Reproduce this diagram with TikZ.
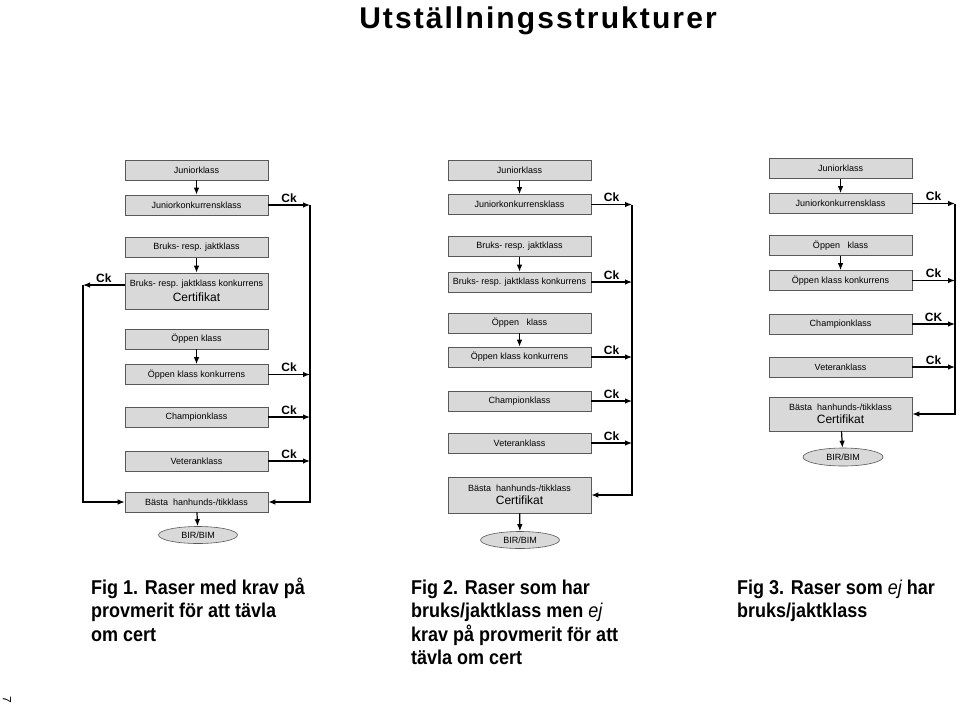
\documentclass[tikz,border=0pt]{standalone}
\usepackage{fontspec}
\setmainfont{Liberation Sans}
\newfontfamily\titelfont[LetterSpace=7]{Liberation Sans}
\newfontfamily\figfont[FakeStretch=0.9]{Liberation Sans}
\usetikzlibrary{shapes.geometric,arrows.meta}

\begin{document}
\begin{tikzpicture}[x=1pt,y=-1pt,>={Latex[length=7pt,width=5.5pt]},
    klass/.style={draw=gray!70!black,line width=0.6pt,fill=gray!30,minimum width=143pt,
      minimum height=20pt,inner sep=1pt,font=\fontsize{9}{10}\selectfont},
    dubbel/.style={klass,minimum height=36pt,align=center},
    birbim/.style={ellipse,draw=gray!70!black,line width=0.6pt,fill=gray!30,minimum width=79pt,
      minimum height=17pt,inner sep=0pt,font=\fontsize{9}{10}\selectfont},
    pil/.style={->,line width=1.2pt},
    ck/.style={above,inner sep=2pt,font=\fontsize{12}{12}\selectfont\bfseries},
    figtext/.style={anchor=base west,align=left,inner sep=0pt,font=\figfont\bfseries\fontsize{20}{23.5}\selectfont}]
      \useasboundingbox (0,0) rectangle (960,702);
      \node[anchor=base,font=\titelfont\bfseries\fontsize{30}{32}\selectfont] (titel) at (538,28) {Utställningsstrukturer};

      % Fig 1
      \node[klass] (jun1) at (196.5,170) {Juniorklass};
      \node[klass] (junk1) at (196.5,205) {Juniorkonkurrensklass};
      \node[klass] (bruk1) at (196.5,247.5) {Bruks- resp. jaktklass};
      \node[dubbel] (brukk1) at (196.5,291) {Bruks- resp. jaktklass konkurrens\\[3pt]{\fontsize{12}{12}\selectfont Certifikat}};
      \node[klass] (opp1) at (196.5,339) {Öppen klass};
      \node[klass] (oppk1) at (196.5,374.5) {Öppen klass konkurrens};
      \node[klass] (champ1) at (196.5,417) {Championklass};
      \node[klass] (vet1) at (196.5,461) {Veteranklass};
      \node[klass] (bast1) at (196.5,502) {Bästa\ \ hanhunds-/tikklass};
      \node[birbim] (bir1) at (198,535) {BIR/BIM};
      \coordinate (hoger1) at (310,205);
      \coordinate (vanster1) at (83,285);
      \draw[pil] (jun1) -- (junk1);
      \draw[pil] (bruk1) -- (brukk1);
      \draw[pil] (opp1) -- (oppk1);
      \draw[pil] (bast1) -- (bir1);
      \draw[pil] (junk1) -- (hoger1) node[ck,midway] {Ck};
      \foreach \n in {oppk1,champ1,vet1}
        \draw[pil] (\n.east) -- (\n.east -| hoger1) node[ck,midway] {Ck};
      \draw[pil] ([yshift=6pt]brukk1.west) -- (vanster1) node[ck,midway] {Ck};
      \draw[pil] (hoger1) |- (bast1);
      \draw[pil] (vanster1) |- (bast1);

      % Fig 2
      \node[klass] (jun2) at (519.5,170) {Juniorklass};
      \node[klass] (junk2) at (519.5,204.5) {Juniorkonkurrensklass};
      \node[klass] (bruk2) at (519.5,246.5) {Bruks- resp. jaktklass};
      \node[klass] (brukk2) at (519.5,282) {Bruks- resp. jaktklass konkurrens};
      \node[klass] (opp2) at (519.5,323) {Öppen\ \ \ klass};
      \node[klass] (oppk2) at (519.5,357) {Öppen klass konkurrens};
      \node[klass] (champ2) at (519.5,401) {Championklass};
      \node[klass] (vet2) at (519.5,443) {Veteranklass};
      \node[dubbel] (bast2) at (519.5,495) {Bästa\ \ hanhunds-/tikklass\\[3pt]{\fontsize{12}{12}\selectfont Certifikat}};
      \node[birbim] (bir2) at (520,540) {BIR/BIM};
      \coordinate (hoger2) at (632,204.5);
      \draw[pil] (jun2) -- (junk2);
      \draw[pil] (bruk2) -- (brukk2);
      \draw[pil] (opp2) -- (oppk2);
      \draw[pil] (bast2) -- (bir2);
      \draw[pil] (junk2) -- (hoger2) node[ck,midway] {Ck};
      \foreach \n in {brukk2,oppk2,champ2,vet2}
        \draw[pil] (\n.east) -- (\n.east -| hoger2) node[ck,midway] {Ck};
      \draw[pil] (hoger2) |- (bast2);

      % Fig 3
      \node[klass] (jun3) at (840.5,168.5) {Juniorklass};
      \node[klass] (junk3) at (840.5,203.5) {Juniorkonkurrensklass};
      \node[klass] (opp3) at (840.5,245.5) {Öppen\ \ \ klass};
      \node[klass] (oppk3) at (840.5,280.5) {Öppen klass konkurrens};
      \node[klass] (champ3) at (840.5,324) {Championklass};
      \node[klass] (vet3) at (840.5,367) {Veteranklass};
      \node[dubbel,minimum height=34pt] (bast3) at (840.5,414) {Bästa\ \ hanhunds-/tikklass\\[3pt]{\fontsize{12}{12}\selectfont Certifikat}};
      \node[birbim,minimum width=80pt,minimum height=18pt] (bir3) at (843,457) {BIR/BIM};
      \coordinate (hoger3) at (955,203.5);
      \draw[pil] (jun3) -- (junk3);
      \draw[pil] (opp3) -- (oppk3);
      \draw[pil] (bast3) -- (bir3);
      \draw[pil] (junk3) -- (hoger3) node[ck,midway] {Ck};
      \draw[pil] (oppk3.east) -- (oppk3.east -| hoger3) node[ck,midway] {Ck};
      \draw[pil] (champ3.east) -- (champ3.east -| hoger3) node[ck,midway] {CK};
      \draw[pil] (vet3.east) -- (vet3.east -| hoger3) node[ck,midway] {Ck};
      \draw[pil] (hoger3) |- (bast3);

      % base = baseline of the last line
      \node[figtext] (fig1) at (91,641) {Fig 1. Raser med krav på\\provmerit för att tävla\\om cert};
      \node[figtext] (fig2) at (411,664.5) {Fig 2. Raser som har\\bruks/jaktklass men {\mdseries\itshape ej}\\krav på provmerit för att\\tävla om cert};
      \node[figtext] (fig3) at (737,617.5) {Fig 3. Raser som {\mdseries\itshape ej} har\\bruks/jaktklass};
      \node[rotate=-90,font=\fontsize{12}{12}\selectfont] (sida) at (7,700) {7};
    \end{tikzpicture}
\end{document}
